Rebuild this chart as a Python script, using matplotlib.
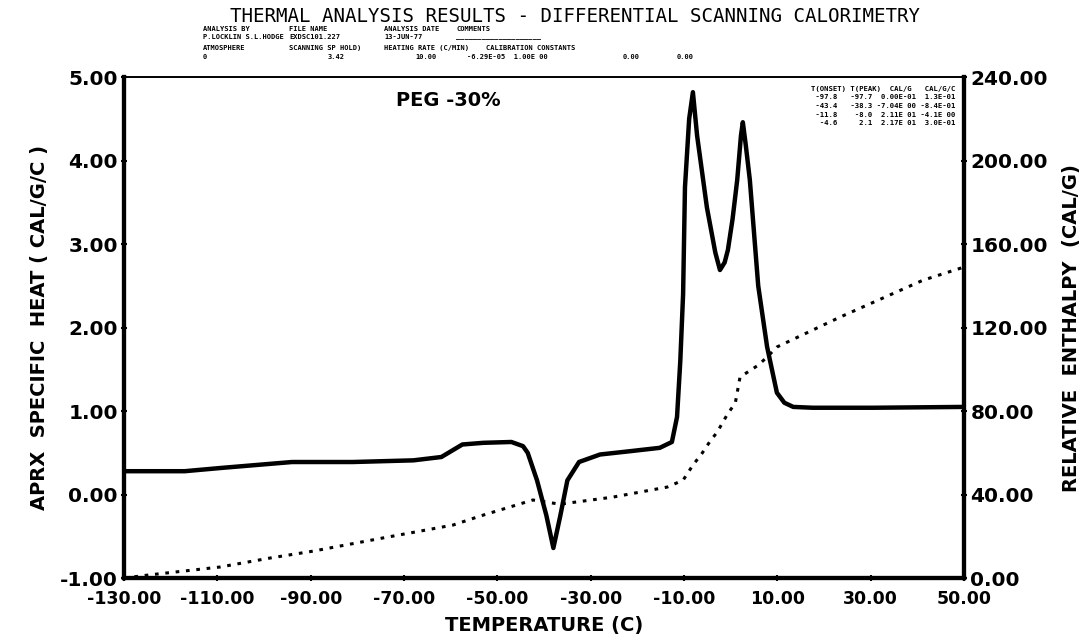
# DSC thermal analysis plot - PEG 30%

import matplotlib.pyplot as plt

# specific heat curve (left axis)
temp_cp = [-130, -117, -109, -94, -81, -68, -62, -57.5, -53, -47, -44.5, -43.5, -41.5, -39.5,
           -38, -36.5, -35, -32.5, -28, -21.5, -15.2, -12.6, -11.5, -10.8, -10.2, -9.8, -8.9,
           -8.1, -7.2, -5.1, -3.3, -2.3, -1.3, -0.6, 0.4, 1.4, 2.2, 2.6, 3.2, 4.1, 5.9, 7.8,
           9.9, 11.5, 13.4, 17.6, 30.5, 50]
cp = [0.28, 0.28, 0.32, 0.39, 0.39, 0.41, 0.45, 0.60, 0.62, 0.63, 0.58, 0.50, 0.17, -0.25,
      -0.64, -0.25, 0.17, 0.39, 0.48, 0.52, 0.56, 0.63, 0.93, 1.6, 2.4, 3.68, 4.5,
      4.82, 4.3, 3.44, 2.9, 2.69, 2.78, 2.93, 3.3, 3.77, 4.3, 4.46, 4.2, 3.77, 2.5, 1.77,
      1.22, 1.1, 1.05, 1.04, 1.04, 1.05]

# relative enthalpy curve (right axis)
temp_h = [-130, -125, -109.4, -98.7, -89.5, -73.6, -59.5, -53.7, -42.4, -36.6, -25.2, -19.4,
          -13.6, -10.2, -8.1, -6.1, -4.4, -2.9, -0.8, 1.0, 2.0, 5.9, 7.8, 9.9, 23.4, 41.2, 50]
enthalpy = [0, 1.4, 5.3, 9.6, 12.9, 19.6, 25.4, 29.7, 37.4, 35.4, 38.8, 41.2,
            43.6, 46.9, 54.1, 59.9, 65.6, 69.9, 78.1, 84.0, 96.3, 102.0, 105.9, 110.7, 125.0, 142.7, 149.0]

x_ticks = [-130, -110, -90, -70, -50, -30, -10, 10, 30, 50]
left_ticks = [-1, 0, 1, 2, 3, 4, 5]
right_ticks = [0, 40, 80, 120, 160, 200, 240]

table_lines = ["T(ONSET) T(PEAK)  CAL/G   CAL/G/C",
               " -97.8   -97.7  0.00E-01  1.3E-01",
               " -43.4   -38.3 -7.04E 00 -8.4E-01",
               " -11.8    -8.0  2.11E 01 -4.1E 00",
               "  -4.6     2.1  2.17E 01  3.0E-01"]

fig = plt.figure(figsize=(10.92, 6.43), dpi=100)
ax = fig.add_axes([0.1136, 0.101, 0.7692, 0.779])
ax2 = ax.twinx()

ax.plot(temp_cp, cp, color='black', linewidth=3.2, solid_joinstyle='round')
ax2.plot(temp_h, enthalpy, color='black', linewidth=2.2, linestyle=(0, (1.2, 2.2)))

ax.set_xlim(-130, 50)
ax.set_ylim(-1, 5)
ax2.set_ylim(0, 240)

ax.set_xticks(x_ticks)
ax.set_xticklabels(["%.2f" % v for v in x_ticks], fontsize=12.5, fontweight='bold')
ax.set_yticks(left_ticks)
ax.set_yticklabels(["%.2f" % v for v in left_ticks], fontsize=14.5, fontweight='bold')
ax2.set_yticks(right_ticks)
ax2.set_yticklabels(["%.2f" % v for v in right_ticks], fontsize=14.5, fontweight='bold')

ax.tick_params(axis='x', direction='inout', length=5, width=1.5, pad=6)
ax.tick_params(axis='y', direction='inout', length=5, width=1.5, pad=2)
ax2.tick_params(axis='y', direction='inout', length=5, width=1.5, pad=2)

for a in (ax, ax2):
    a.spines['left'].set_linewidth(3)
    a.spines['right'].set_linewidth(3)
    a.spines['bottom'].set_linewidth(3)
    a.spines['top'].set_linewidth(1.2)

ax.set_xlabel("TEMPERATURE (C)", fontsize=14, fontweight='bold', labelpad=6)
ax.set_ylabel("APRX  SPECIFIC  HEAT ( CAL/G/C )", fontsize=14, fontweight='bold', labelpad=8)
ax2.set_ylabel("RELATIVE  ENTHALPY  (CAL/G)", fontsize=14, fontweight='bold', labelpad=10)

ax.text(-60.5, 4.72, "PEG -30%", fontsize=14, fontweight='bold', ha='center', va='center')

# peak table in the upper right corner
for i, line in enumerate(table_lines):
    fig.text(0.875, 0.862 - i * 0.0135, line, fontsize=5.2, fontweight='bold',
             family='DejaVu Sans Mono', ha='right', va='center')

# header
fig.text(0.527, 0.975, "THERMAL ANALYSIS RESULTS - DIFFERENTIAL SCANNING CALORIMETRY",
         fontsize=13.8, family='DejaVu Sans Mono', ha='center', va='center')
hdr = dict(fontsize=5, fontweight='bold', family='DejaVu Sans Mono', va='center')
fig.text(0.186, 0.955, "ANALYSIS BY", **hdr)
fig.text(0.265, 0.955, "FILE NAME", **hdr)
fig.text(0.352, 0.955, "ANALYSIS DATE", **hdr)
fig.text(0.418, 0.955, "COMMENTS", **hdr)
fig.text(0.186, 0.942, "P.LOCKLIN S.L.HODGE", **hdr)
fig.text(0.265, 0.942, "EXDSC101.227", **hdr)
fig.text(0.352, 0.942, "13-JUN-77", **hdr)
fig.text(0.418, 0.942, "____________________", **hdr)
fig.text(0.186, 0.925, "ATMOSPHERE", **hdr)
fig.text(0.265, 0.925, "SCANNING SP HOLD)", **hdr)
fig.text(0.352, 0.925, "HEATING RATE (C/MIN)", **hdr)
fig.text(0.445, 0.925, "CALIBRATION CONSTANTS", **hdr)
fig.text(0.186, 0.912, "0", **hdr)
fig.text(0.300, 0.912, "3.42", **hdr)
fig.text(0.380, 0.912, "10.00", **hdr)
fig.text(0.428, 0.912, "-6.29E-05  1.00E 00", **hdr)
fig.text(0.570, 0.912, "0.00", **hdr)
fig.text(0.620, 0.912, "0.00", **hdr)

fig.savefig("out.png", dpi=100)
